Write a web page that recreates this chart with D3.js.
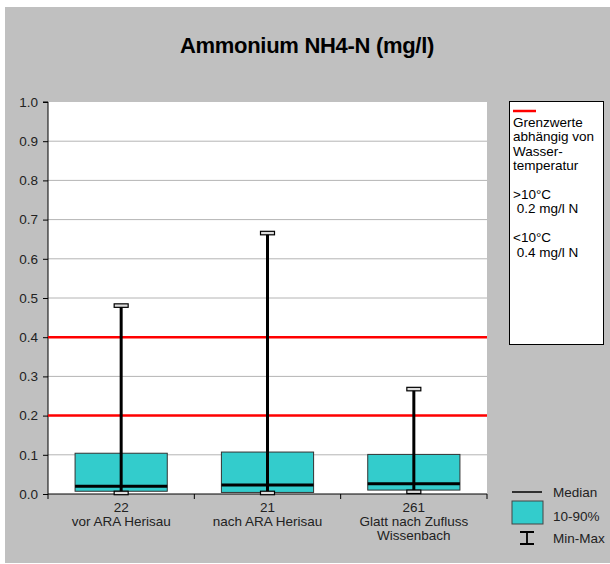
<!DOCTYPE html>
<html><head><meta charset="utf-8">
<script src="https://cdn.jsdelivr.net/npm/d3@7/dist/d3.min.js"></script>
<style>body{margin:0;background:#fff}svg{display:block}text{font-family:"Liberation Sans",Arial,sans-serif}</style>
</head><body><svg id="c" width="610" height="564"></svg>
<script>
const counts = ["22", "21", "261"];
const sites = [["vor ARA Herisau"], ["nach ARA Herisau"], ["Glatt nach Zufluss", "Wissenbach"]];
const p10 = [0.007, 0.004, 0.010];
const p90 = [0.104, 0.107, 0.101];
const medians = [0.020, 0.023, 0.026];
const mins = [0.002, 0.002, 0.005];
const maxs = [0.480, 0.665, 0.267];
const limits = [0.2, 0.4];
const yTicks = [0, 0.1, 0.2, 0.3, 0.4, 0.5, 0.6, 0.7, 0.8, 0.9, 1.0];
const legendNote = ["Grenzwerte", "abhängig von", "Wasser-", "temperatur", "", ">10°C", " 0.2 mg/l N", "", "<10°C", " 0.4 mg/l N"];

const svg = d3.select("#c");
svg.append("rect").attr("x",5).attr("y",7).attr("width",605).attr("height",556).attr("fill","#c0c0c0");

const L=48, R=487, T=102, B=494;
svg.append("rect").attr("x",L).attr("y",T).attr("width",R-L).attr("height",B-T).attr("fill","#fff");

svg.append("text").attr("x",307).attr("y",53).attr("text-anchor","middle")
  .attr("font-size",22).attr("font-weight","bold").attr("fill","#000").attr("letter-spacing","-0.3").text("Ammonium NH4-N (mg/l)");

const y = d3.scaleLinear().domain([0,1]).range([B,T]);
const x = d3.scaleBand().domain(d3.range(counts.length)).range([L,R]).paddingInner(0).paddingOuter(0);
const FS = 13.5;

// gridlines
svg.append("g").selectAll("line").data(yTicks.filter(d=>d>0 && d<1)).join("line")
  .attr("x1",L).attr("x2",R).attr("y1",d=>y(d)).attr("y2",d=>y(d))
  .attr("stroke","#b4b4b4").attr("stroke-width",1);

// y axis
const ya = svg.append("g").attr("transform",`translate(${L},0)`)
  .call(d3.axisLeft(y).tickValues(yTicks).tickFormat(d3.format(".1f")).tickSize(5).tickPadding(5));
ya.select(".domain").attr("stroke","#000").attr("d",`M-5,${T}H0V${B}`);
ya.selectAll(".tick line").attr("stroke","#000");
ya.selectAll(".tick text").attr("font-size",FS).attr("fill","#222").attr("font-family","Liberation Sans, Arial, sans-serif");

// x axis
const xa = svg.append("g").attr("transform",`translate(0,${B})`);
xa.append("line").attr("x1",L).attr("x2",R).attr("y1",0).attr("y2",0).attr("stroke","#000");
const edges = d3.range(counts.length+1).map(i => i<counts.length ? x(i) : x(i-1)+x.bandwidth());
xa.selectAll("line.t").data(edges).join("line").attr("class","t")
  .attr("x1",d=>d).attr("x2",d=>d).attr("y1",0).attr("y2",5).attr("stroke","#000");
counts.forEach((c,i)=>{
  const cx = x(i)+x.bandwidth()/2;
  const t = xa.append("text").attr("text-anchor","middle").attr("font-size",FS).attr("fill","#222");
  [c, ...sites[i]].forEach((s,k)=>t.append("tspan").attr("x",cx).attr("y",18+k*14).text(s));
});

// limit lines
svg.append("g").selectAll("line").data(limits).join("line")
  .attr("x1",L).attr("x2",R).attr("y1",d=>y(d)).attr("y2",d=>y(d))
  .attr("stroke","#ff0000").attr("stroke-width",2.5);

// boxes
const bw = x.bandwidth()*0.63;
const g = svg.append("g");
counts.forEach((c,i)=>{
  const cx = x(i)+x.bandwidth()/2;
  g.append("rect").attr("x",cx-bw/2).attr("y",y(p90[i])).attr("width",bw).attr("height",y(p10[i])-y(p90[i]))
    .attr("fill","#33cccc").attr("stroke","#333").attr("stroke-width",1);
  g.append("line").attr("x1",cx-bw/2).attr("x2",cx+bw/2).attr("y1",y(medians[i])).attr("y2",y(medians[i]))
    .attr("stroke","#000").attr("stroke-width",3);
  g.append("line").attr("x1",cx).attr("x2",cx).attr("y1",y(maxs[i])).attr("y2",y(mins[i]))
    .attr("stroke","#000").attr("stroke-width",3);
  [maxs[i], mins[i]].forEach(v=>{
    g.append("rect").attr("x",cx-7).attr("y",y(v)-2).attr("width",14).attr("height",3.5)
      .attr("fill","#ddd").attr("stroke","#000").attr("stroke-width",1.2);
  });
});

// legend box
svg.append("rect").attr("x",509.5).attr("y",101.5).attr("width",94).attr("height",243)
  .attr("fill","#fff").attr("stroke","#000").attr("stroke-width",1);
svg.append("line").attr("x1",513).attr("x2",536).attr("y1",111).attr("y2",111).attr("stroke","#ff0000").attr("stroke-width",2.5);
const lt = svg.append("text").attr("font-size",FS).attr("fill","#000").attr("xml:space","preserve");
legendNote.forEach((s,k)=>lt.append("tspan").attr("x",513).attr("y",127+k*14.4).text(s));

// bottom legend
svg.append("line").attr("x1",512).attr("x2",542).attr("y1",492).attr("y2",492).attr("stroke","#000").attr("stroke-width",1.5);
svg.append("text").attr("x",553).attr("y",497).attr("font-size",FS).attr("fill","#222").text("Median");
svg.append("rect").attr("x",512).attr("y",501).attr("width",31).attr("height",23).attr("fill","#33cccc").attr("stroke","#444");
svg.append("text").attr("x",553).attr("y",521).attr("font-size",FS).attr("fill","#222").text("10-90%");
svg.append("path").attr("d","M520,532H534M527,532V544M520,544H534").attr("stroke","#000").attr("stroke-width",1.8).attr("fill","none");
svg.append("text").attr("x",553).attr("y",543).attr("font-size",FS).attr("fill","#222").text("Min-Max");
</script></body></html>
